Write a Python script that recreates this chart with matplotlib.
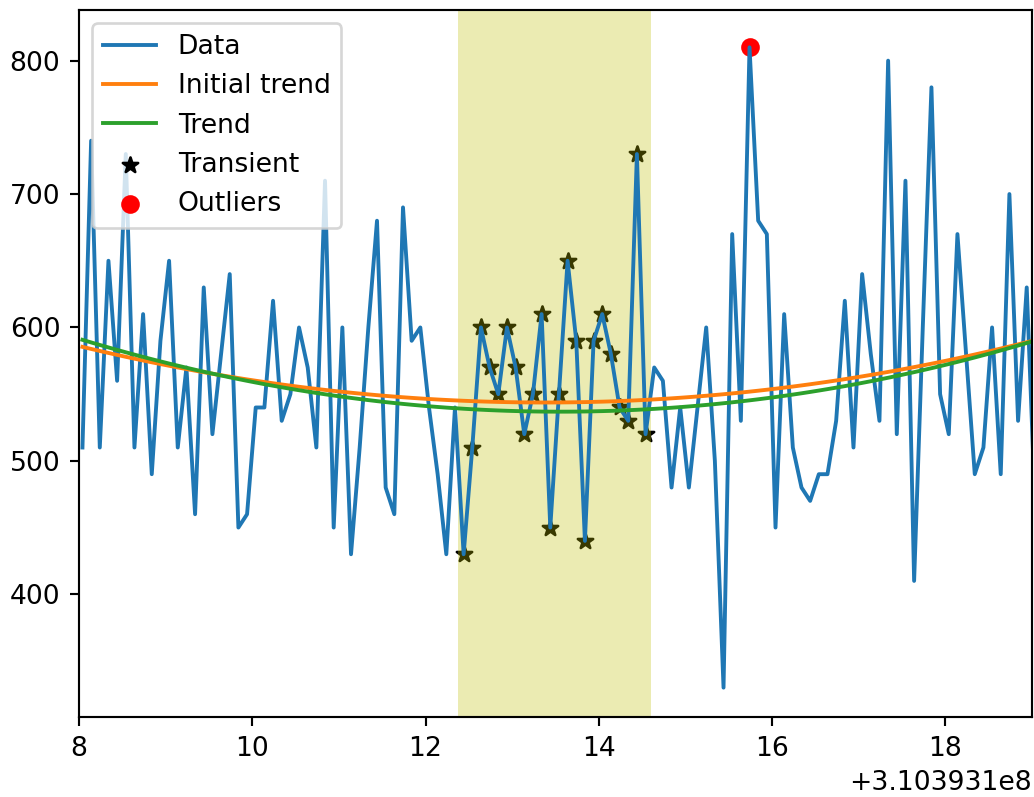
import numpy as np
import matplotlib
matplotlib.use("Agg")
import matplotlib.pyplot as plt

# sample times (seconds): first sample and cadence
t_first = 310393108.04
cadence = 0.1

flux = [510, 740, 510, 650, 560, 730, 510, 610, 490, 590,
        650, 510, 570, 460, 630, 520, 580, 640, 450, 460,
        540, 540, 620, 530, 550, 600, 570, 510, 710, 450,
        600, 430, 510, 600, 680, 480, 460, 690, 590, 600,
        540, 490, 430, 540, 430, 510, 600, 570, 550, 600,
        570, 520, 550, 610, 450, 550, 650, 590, 440, 590,
        610, 580, 540, 530, 730, 520, 570, 560, 480, 540,
        480, 540, 600, 500, 330, 670, 530, 810, 680, 670,
        450, 610, 510, 480, 470, 490, 490, 530, 620, 510,
        640, 580, 530, 800, 520, 710, 410, 600, 780, 550,
        520, 670, 580, 490, 510, 600, 490, 700, 530, 630,
        460]

# flagged samples
transient_first = 44
transient_last = 65
outlier_idx = [77]

xlim = (310393108, 310393119)
ylim = (308, 838)

time = t_first + cadence * np.arange(len(flux))
flux = np.array(flux, dtype=float)

transient = np.zeros(len(flux), dtype=bool)
transient[transient_first:transient_last + 1] = True
outlier = np.zeros(len(flux), dtype=bool)
outlier[outlier_idx] = True

# quadratic trends: first without the transient, then also without outliers
t_ref = time - time[0]
first = ~transient
init_coef = np.polyfit(t_ref[first], flux[first], 2)
keep = ~(transient | outlier)
coef = np.polyfit(t_ref[keep], flux[keep], 2)
init_trend = np.polyval(init_coef, t_ref)
trend = np.polyval(coef, t_ref)

dpi = 192
fig = plt.figure(figsize=(1034 / dpi, 797 / dpi), dpi=dpi)
ax = fig.add_axes([0.0764, 0.1004, 0.998 - 0.0764, 0.9875 - 0.1004])

lw = 1.45
ax.scatter(time[transient], flux[transient], marker='*', color='k',
           label='Transient')
ax.scatter(time[outlier], flux[outlier], marker='o', color='r',
           label='Outliers')
ax.axvspan(time[transient_first] - cadence * 0.6, time[transient_last] + cadence * 0.65,
           color='y', alpha=0.3, lw=0)
ax.plot(time, flux, lw=lw, label='Data')
ax.plot(time, init_trend, lw=lw, label='Initial trend')
ax.plot(time, trend, lw=lw, label='Trend')

ax.set_xlim(*xlim)
ax.set_ylim(*ylim)

handles, labels = ax.get_legend_handles_labels()
order = ['Data', 'Initial trend', 'Trend', 'Transient', 'Outliers']
lookup = dict(zip(labels, handles))
ax.legend([lookup[k] for k in order], order, loc='upper left')

fig.savefig('out.png', dpi=dpi)
